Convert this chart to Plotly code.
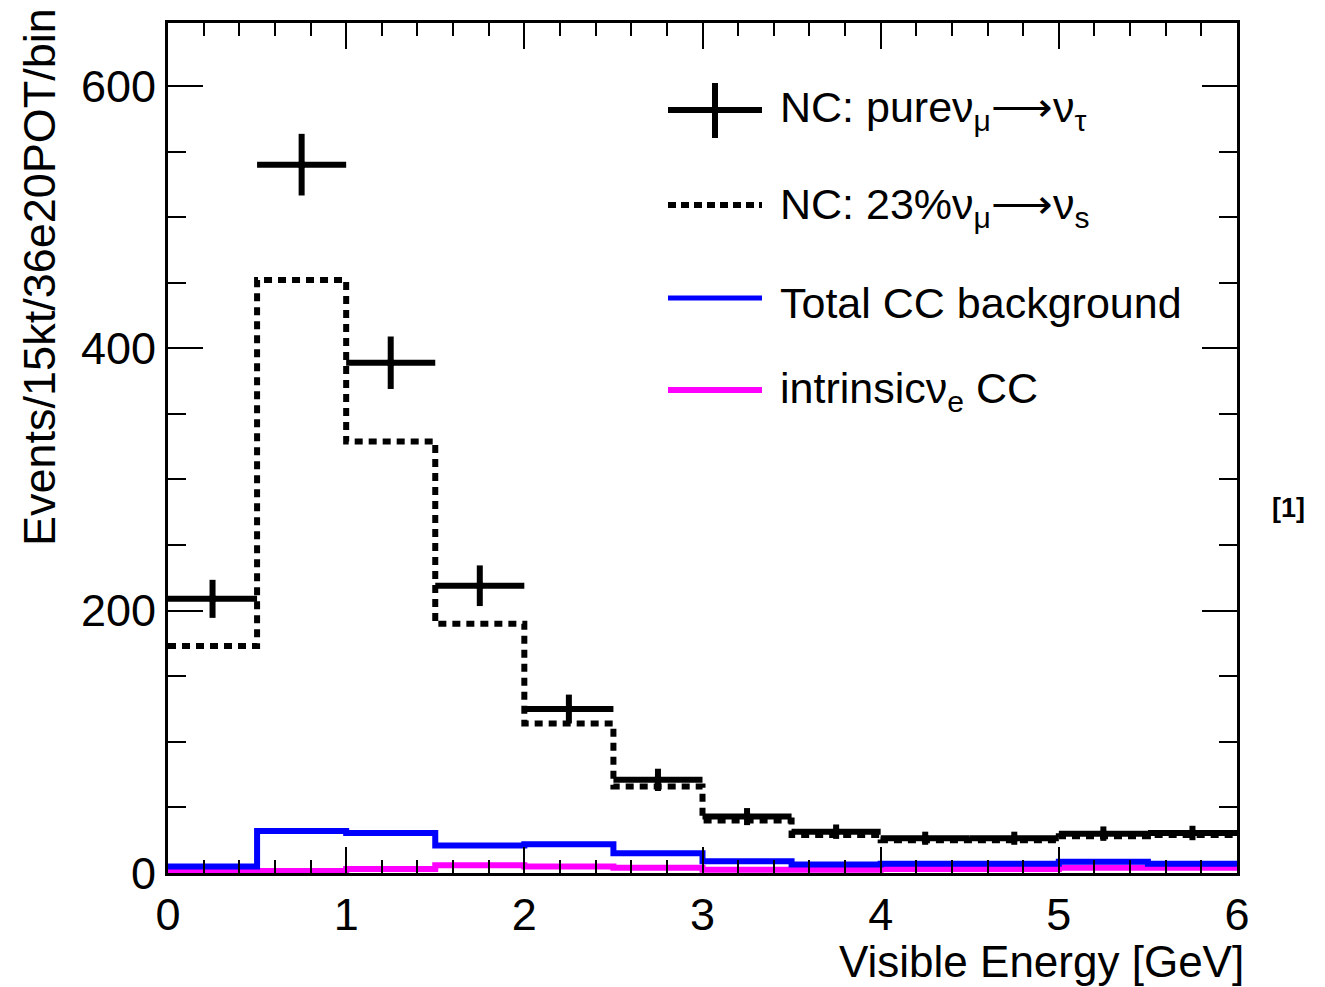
import plotly.graph_objects as go

# ---- data ----
bin_edges = [0, 0.5, 1.0, 1.5, 2.0, 2.5, 3.0, 3.5, 4.0, 4.5, 5.0, 5.5, 6.0]
pure_numu_nutau = [209, 540, 389, 219, 125, 71, 43, 31.5, 26.5, 26.5, 30, 30.5]
pure_err = [14.5, 23.5, 20, 15.5, 11, 8.5, 6.5, 5.5, 5, 5, 5.5, 5.5]
sterile_23 = [173, 452, 329, 190, 114, 66, 40, 29, 25, 25, 28, 29]
total_cc_bkg = [5, 32, 30.5, 21, 22, 15, 9, 6.5, 7, 7, 8.5, 7]
intrinsic_nue = [1.5, 1.5, 3, 6, 5, 4, 2.5, 2.5, 3, 3, 4, 4]

x_ticks = [0, 1, 2, 3, 4, 5, 6]
y_ticks = [0, 200, 400, 600]

FONT = "Liberation Sans, Arial, Helvetica, sans-serif"
W, H = 1325, 987
L, R, T, B = 168, 1237, 23, 873


def px(xp):
    return (xp - L) / (R - L)


def py(yp):
    return (B - yp) / (B - T)


centers = [(bin_edges[i] + bin_edges[i + 1]) / 2 for i in range(len(bin_edges) - 1)]
half = [(bin_edges[i + 1] - bin_edges[i]) / 2 for i in range(len(bin_edges) - 1)]


def step(vals):
    return list(bin_edges), list(vals) + [vals[-1]]


fig = go.Figure()

sx, sy = step(intrinsic_nue)
fig.add_trace(go.Scatter(x=sx, y=sy, mode="lines", line=dict(shape="hv", color="#ff00ff", width=6),
                         name="intrinsic νe CC", showlegend=False))
sx, sy = step(total_cc_bkg)
fig.add_trace(go.Scatter(x=sx, y=sy, mode="lines", line=dict(shape="hv", color="#0000ff", width=6),
                         name="Total CC background", showlegend=False))
sx, sy = step(sterile_23)
fig.add_trace(go.Scatter(x=sx, y=sy, mode="lines", line=dict(shape="hv", color="black", width=6, dash="8px,6px"),
                         name="NC: 23% νμ→νs", showlegend=False))
fig.add_trace(go.Scatter(
    x=centers, y=pure_numu_nutau, mode="markers",
    marker=dict(color="black", size=8, symbol="circle"),
    error_x=dict(type="data", array=half, width=0, thickness=6, color="black"),
    error_y=dict(type="data", array=pure_err, width=0, thickness=6, color="black"),
    name="NC: pure νμ→ντ", showlegend=False))

axis_common = dict(showline=True, linecolor="black", linewidth=3, mirror="allticks",
                   ticks="inside", tickcolor="black", tickwidth=2,
                   showgrid=False, zeroline=False,
                   tickfont=dict(family=FONT, size=45, color="black"))

fig.update_xaxes(range=[0, 6], tickvals=x_ticks, ticklen=26,
                 minor=dict(dtick=0.2, ticks="inside", ticklen=13, tickwidth=2, tickcolor="black", showgrid=False),
                 **axis_common)
fig.update_yaxes(range=[0, 648], tickvals=y_ticks, ticklen=35,
                 minor=dict(dtick=50, ticks="inside", ticklen=18, tickwidth=2, tickcolor="black", showgrid=False),
                 **axis_common)

ARROW = "⟶"

annotations = [
    dict(text="Events/15kt/36e20POT/bin", textangle=-90, x=px(39), y=py(277),
         xanchor="center", yanchor="middle", font=dict(size=45, family=FONT, color="black")),
    dict(text="Visible Energy [GeV]", x=px(1246), y=py(961), xanchor="right", yanchor="middle",
         font=dict(size=44, family=FONT, color="black")),
    dict(text="<b>[1]</b>", x=px(1288), y=py(508), xanchor="center", yanchor="middle",
         font=dict(size=27, family=FONT, color="black")),
    dict(text="NC: pureν<sub>μ</sub>" + ARROW + "ν<sub>τ</sub>", x=px(778), y=py(110), xanchor="left", yanchor="middle",
         font=dict(size=43, family=FONT, color="black")),
    dict(text="NC: 23%ν<sub>μ</sub>" + ARROW + "ν<sub>s</sub>", x=px(778), y=py(207), xanchor="left", yanchor="middle",
         font=dict(size=43, family=FONT, color="black")),
    dict(text="Total CC background", x=px(778), y=py(303), xanchor="left", yanchor="middle",
         font=dict(size=43, family=FONT, color="black")),
    dict(text="intrinsicν<sub>e</sub> CC", x=px(778), y=py(391), xanchor="left", yanchor="middle",
         font=dict(size=43, family=FONT, color="black")),
]
for a in annotations:
    a.update(xref="paper", yref="paper", showarrow=False)

shapes = [
    dict(type="line", x0=px(668), x1=px(762), y0=py(110), y1=py(110), line=dict(color="black", width=6)),
    dict(type="line", x0=px(715), x1=px(715), y0=py(83), y1=py(138), line=dict(color="black", width=6)),
    dict(type="line", x0=px(668), x1=px(762), y0=py(205), y1=py(205), line=dict(color="black", width=6, dash="8px,5px")),
    dict(type="line", x0=px(668), x1=px(762), y0=py(298), y1=py(298), line=dict(color="#0000ff", width=5)),
    dict(type="line", x0=px(668), x1=px(762), y0=py(390), y1=py(390), line=dict(color="#ff00ff", width=6)),
]
for s in shapes:
    s.update(xref="paper", yref="paper")

fig.update_layout(
    width=W, height=H, autosize=False,
    margin=dict(l=L, r=W - R, t=T, b=H - B),
    paper_bgcolor="white", plot_bgcolor="white",
    showlegend=False,
    annotations=annotations, shapes=shapes,
    font=dict(family=FONT, color="black"),
)

fig.write_html("out.html")
